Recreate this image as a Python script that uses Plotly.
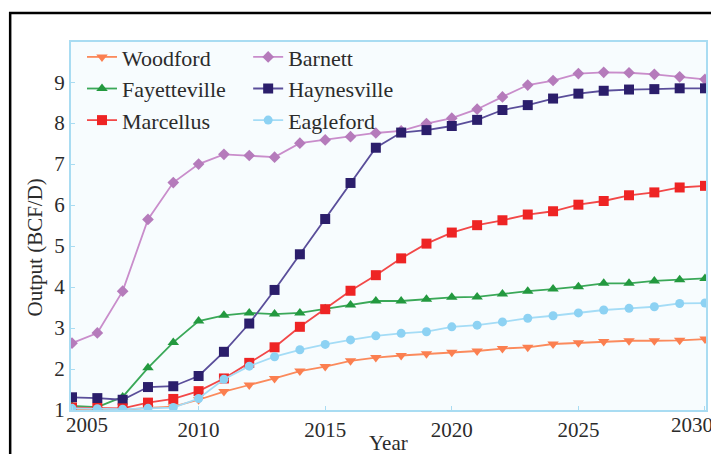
import plotly.graph_objects as go

years = list(range(2005, 2031))

woodford = [1.00, 1.00, 1.00, 1.05, 1.08, 1.25, 1.45, 1.61, 1.77, 1.95, 2.06, 2.20, 2.28, 2.33, 2.37, 2.41,
            2.44, 2.50, 2.53, 2.61, 2.64, 2.67, 2.69, 2.69, 2.70, 2.73]
barnett = [2.63, 2.88, 3.90, 5.65, 6.55, 7.00, 7.24, 7.21, 7.17, 7.51, 7.59, 7.67, 7.76, 7.81, 7.99, 8.12,
           8.34, 8.64, 8.93, 9.04, 9.21, 9.24, 9.23, 9.19, 9.13, 9.07]
fayetteville = [1.10, 1.07, 1.32, 2.03, 2.65, 3.17, 3.31, 3.37, 3.34, 3.37, 3.47, 3.56, 3.66, 3.66, 3.70, 3.75,
                3.76, 3.83, 3.90, 3.95, 4.01, 4.09, 4.09, 4.15, 4.18, 4.21]
haynesville = [1.31, 1.29, 1.25, 1.56, 1.58, 1.83, 2.42, 3.11, 3.93, 4.80, 5.66, 6.54, 7.40, 7.77, 7.83, 7.93,
               8.08, 8.32, 8.44, 8.60, 8.72, 8.79, 8.82, 8.83, 8.85, 8.85]
marcellus = [1.06, 1.05, 1.04, 1.18, 1.27, 1.46, 1.77, 2.15, 2.53, 3.03, 3.46, 3.91, 4.29, 4.70, 5.06, 5.33,
             5.51, 5.63, 5.77, 5.85, 6.01, 6.10, 6.24, 6.31, 6.43, 6.47]
eagleford = [1.04, 1.03, 1.02, 1.04, 1.06, 1.28, 1.75, 2.07, 2.30, 2.47, 2.60, 2.71, 2.81, 2.87, 2.91, 3.03,
             3.07, 3.15, 3.24, 3.30, 3.37, 3.44, 3.48, 3.52, 3.60, 3.61]

x_ticks = [2005, 2010, 2015, 2020, 2025, 2030]
y_ticks = [1, 2, 3, 4, 5, 6, 7, 8, 9]

FONT = "Liberation Serif"
TXT = "#2b2b2b"
AX = "#a9dcf2"

series = [
    ("Woodford", woodford, "#fb8a5c", "#fb7f50", "triangle-down", 10, "legend"),
    ("Barnett", barnett, "#c98dcb", "#b57bbb", "diamond", 9, "legend2"),
    ("Fayetteville", fayetteville, "#3aa858", "#23993f", "triangle-up", 10, "legend"),
    ("Haynesville", haynesville, "#5a4e9a", "#2b1e6b", "square", 10, "legend2"),
    ("Marcellus", marcellus, "#f24848", "#ee2424", "square", 10, "legend"),
    ("Eagleford", eagleford, "#a4dcf6", "#8dd2f3", "circle", 9, "legend2"),
]

fig = go.Figure()
for name, vals, lc, mc, sym, sz, lg in series:
    fig.add_trace(go.Scatter(
        x=years, y=vals, name=name, mode="lines+markers",
        line=dict(color=lc, width=1.8),
        marker=dict(symbol=sym, size=sz, color=mc, line=dict(width=0)),
        legend=lg,
    ))

legend_common = dict(
    orientation="v", xanchor="left", yanchor="top",
    bgcolor="rgba(0,0,0,0)", borderwidth=0,
    font=dict(family=FONT, size=22, color=TXT),
    tracegroupgap=0, itemwidth=30,
)

# edge tick labels are drawn slightly inward in the reference
edge_labels = [(x_ticks[0], 15), (x_ticks[-1], -13)]
tick_text = ["" if v in (x_ticks[0], x_ticks[-1]) else str(v) for v in x_ticks]

annotations = [
    dict(text="Output (BCF/D)", xref="paper", yref="paper", x=-0.056, y=0.443,
         textangle=-90, showarrow=False, xanchor="center", yanchor="middle",
         font=dict(family=FONT, size=21, color=TXT)),
    dict(text="Year", xref="paper", yref="paper", x=0.5, y=-0.09,
         showarrow=False, xanchor="center", yanchor="middle",
         font=dict(family=FONT, size=21, color=TXT)),
]
for v, shift in edge_labels:
    annotations.append(dict(text=str(v), xref="x", yref="paper", x=v, y=0, yanchor="top",
                            xanchor="center", xshift=shift, yshift=-1, showarrow=False,
                            font=dict(family=FONT, size=21, color=TXT)))

fig.update_layout(
    width=711, height=446,
    margin=dict(l=63, r=11, t=34, b=44),
    paper_bgcolor="white",
    plot_bgcolor="#f7fcfe",
    font=dict(family=FONT, size=21, color=TXT),
    showlegend=True,
    legend=dict(x=0.0173, y=1.016, **legend_common),
    legend2=dict(x=0.279, y=1.016, **legend_common),
    xaxis=dict(
        range=[2004.96, 2030.04], tickmode="array", tickvals=x_ticks,
        ticktext=tick_text,
        showgrid=False, zeroline=False, showline=True, linecolor=AX, linewidth=2,
        mirror=True, ticks="inside", ticklen=4, tickcolor=AX,
        tickfont=dict(family=FONT, size=21, color=TXT),
    ),
    yaxis=dict(
        range=[1, 9.98], tickmode="array", tickvals=y_ticks,
        showgrid=False, zeroline=False, showline=True, linecolor=AX, linewidth=2,
        mirror=True, ticks="inside", ticklen=4, tickcolor=AX,
        tickfont=dict(family=FONT, size=21, color=TXT),
    ),
    annotations=annotations,
    shapes=[
        dict(type="rect", xref="paper", yref="paper", x0=-0.0958, x1=1.3, y0=-0.4, y1=1.0788,
             line=dict(color="black", width=2.5), fillcolor="rgba(0,0,0,0)", layer="above"),
    ],
)

fig.write_html("out.html")
